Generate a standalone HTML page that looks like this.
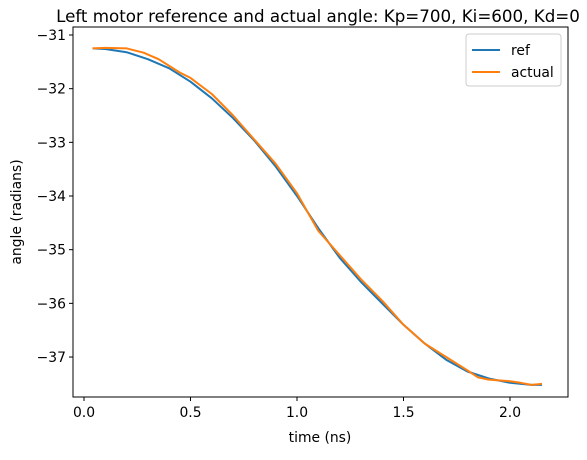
<!DOCTYPE html>
<html><head><meta charset="utf-8"><style>
body{margin:0;background:#fff;}
svg text{font-family:"DejaVu Sans","Liberation Sans",sans-serif;fill:#000;}
</style></head><body>
<svg id="chart" width="587" height="455" xmlns="http://www.w3.org/2000/svg">
<rect width="587" height="455" fill="#fff"/>
<text x="318" y="22" font-size="16.7" text-anchor="middle">Left motor reference and actual angle: Kp=700, Ki=600, Kd=0</text>
<g id="xt"></g>
<g id="yt"></g>
<g id="lines"></g>
<rect x="73" y="27" width="495" height="370" fill="none" stroke="#000" stroke-width="1"/>
<text x="320" y="442" font-size="13.9" text-anchor="middle">time (ns)</text>
<text transform="translate(21,212) rotate(-90)" font-size="13.9" text-anchor="middle">angle (radians)</text>
<g>
<rect x="466" y="34" width="95" height="52" rx="3" fill="#fff" stroke="#ccc"/>
<g><line x1="472" y1="50" x2="500" y2="50" stroke="#1f77b4" stroke-width="2"/><text x="511" y="55" font-size="13.9">ref</text></g>
<g><line x1="472" y1="72" x2="500" y2="72" stroke="#ff7f0e" stroke-width="2"/><text x="511" y="77" font-size="13.9">actual</text></g>
</g>
</svg>
<script>
const xTicks=[0.0,0.5,1.0,1.5,2.0];
const xTickLabels=["0.0","0.5","1.0","1.5","2.0"];
const yTicks=[-31,-32,-33,-34,-35,-36,-37];
const yTickLabels=["\u221231","\u221232","\u221233","\u221234","\u221235","\u221236","\u221237"];
const refT=[0.04,0.1,0.2,0.3,0.4,0.5,0.6,0.7,0.8,0.9,1.0,1.1,1.2,1.3,1.4,1.5,1.6,1.7,1.8,1.9,2.0,2.1,2.15];
const refV=[-31.25,-31.26,-31.32,-31.45,-31.62,-31.87,-32.18,-32.55,-32.97,-33.45,-34.0,-34.6,-35.15,-35.6,-36.0,-36.4,-36.75,-37.05,-37.27,-37.4,-37.48,-37.52,-37.52];
const actT=[0.04,0.1,0.2,0.28,0.35,0.45,0.5,0.6,0.7,0.8,0.9,1.0,1.05,1.1,1.2,1.3,1.4,1.5,1.6,1.7,1.8,1.85,1.9,2.0,2.05,2.1,2.15];
const actV=[-31.25,-31.24,-31.25,-31.33,-31.45,-31.7,-31.8,-32.1,-32.5,-32.95,-33.4,-33.95,-34.3,-34.65,-35.1,-35.55,-35.95,-36.4,-36.75,-37.0,-37.25,-37.38,-37.42,-37.45,-37.48,-37.52,-37.5];
const NS="http://www.w3.org/2000/svg";
function xs(t){return 84+t*213;}
function ys(v){return 35+(-31-v)*53.67;}
function mk(tag,attrs,parent){const e=document.createElementNS(NS,tag);for(const k in attrs)e.setAttribute(k,attrs[k]);parent.appendChild(e);return e;}
const xt=document.getElementById('xt'),yt=document.getElementById('yt'),lines=document.getElementById('lines');
xTicks.forEach((t,i)=>{
  const g=mk('g',{},xt);
  
  
  mk('line',{x1:xs(t),x2:xs(t),y1:397,y2:401,stroke:'#000'},g);
  const tx=mk('text',{x:xs(t),y:417,'font-size':13.9,'text-anchor':'middle'},g);tx.textContent=xTickLabels[i];
});
yTicks.forEach((v,i)=>{
  const g=mk('g',{},yt);
  
  
  mk('line',{x1:69,x2:73,y1:ys(v),y2:ys(v),stroke:'#000'},g);
  const tx=mk('text',{x:66,y:ys(v)+5,'font-size':13.9,'text-anchor':'end'},g);tx.textContent=yTickLabels[i];
});
function path(T,V,color,name){
  const d=T.map((t,i)=>(i?'L':'M')+xs(t).toFixed(1)+','+ys(V[i]).toFixed(1)).join(' ');
  const p=mk('path',{d:d,fill:'none',stroke:color,'stroke-width':2,'stroke-linejoin':'round'},lines);
  
  
}
path(refT,refV,'#1f77b4','ref-line');
path(actT,actV,'#ff7f0e','actual-line');
</script>
</body></html>
